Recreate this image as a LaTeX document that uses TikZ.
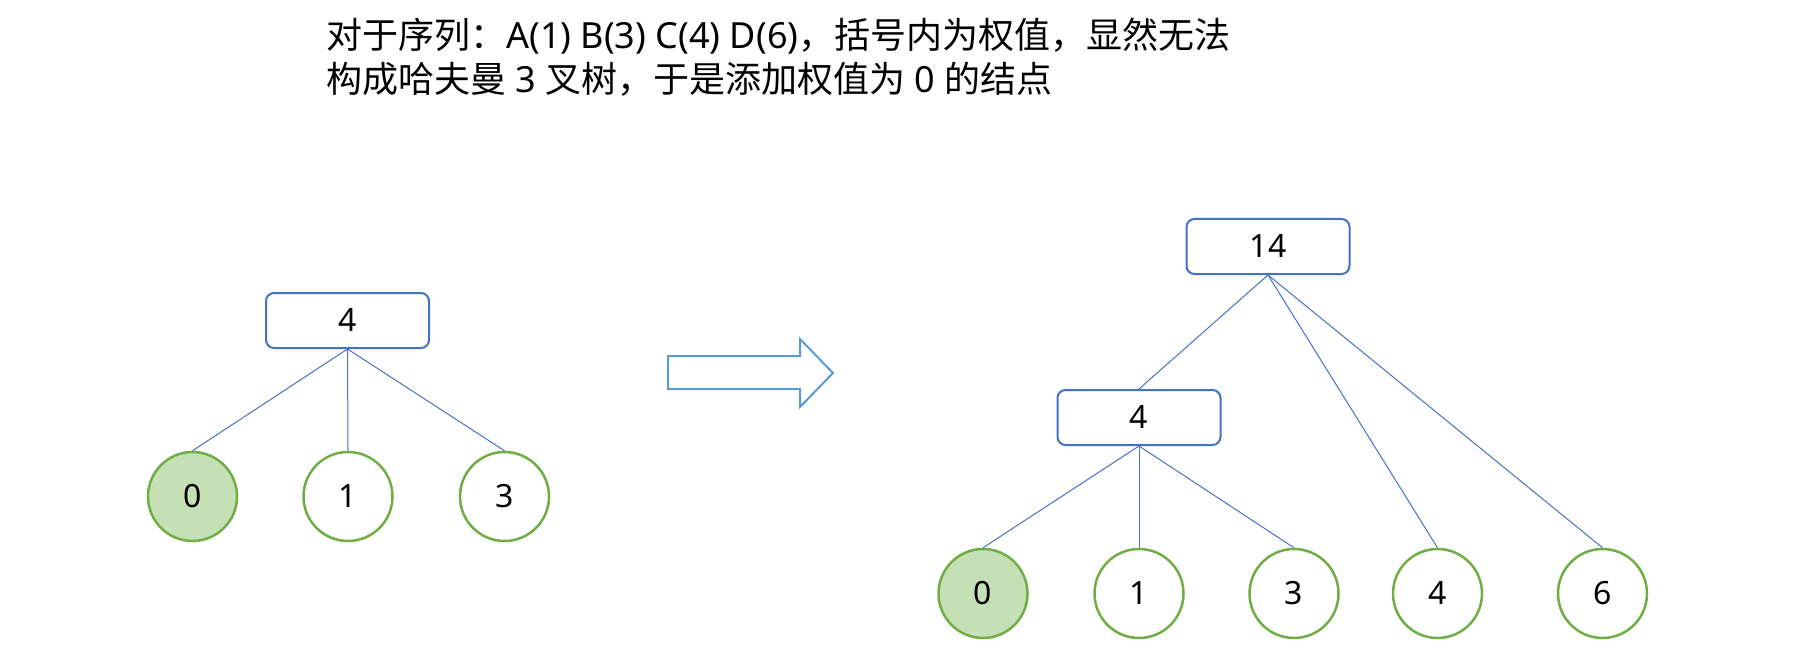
\documentclass[tikz,border=0pt]{standalone}
\usepackage{fontspec}
\setmainfont{Noto Sans}
\newfontfamily\cjk{Noto Sans CJK SC}
\definecolor{boxblue}{HTML}{4472C4}
\definecolor{arrowblue}{HTML}{5B9BD5}
\definecolor{leafgreen}{HTML}{70AD47}
\definecolor{leaffill}{HTML}{C5E0B4}
\tikzset{
  sumbox/.style={draw=boxblue, line width=2pt, rounded corners=8pt, minimum width=163pt, minimum height=55pt, inner sep=0pt, font=\fontsize{32}{38}\selectfont},
  leaf/.style={circle, draw=leafgreen, line width=2.5pt, minimum size=89pt, inner sep=0pt, font=\fontsize{32}{38}\selectfont},
  addleaf/.style={leaf, fill=leaffill},
  edge/.style={draw=boxblue, line width=1pt},
  caption/.style={anchor=base west, inner sep=0pt, font=\fontsize{36}{44}\selectfont}
}
\begin{document}
\begin{tikzpicture}[x=1pt, y=-1pt]
\useasboundingbox (0,0) rectangle (1794,671);
% caption
\node[caption] (t1) at (326,49) {{\cjk 对于序列：}A(1) B(3) C(4) D(6){\cjk ，括号内为权值，显然无法}};
\node[caption] (t2) at (326,93) {{\cjk 构成哈夫曼} 3 {\cjk 叉树，于是添加权值为} 0 {\cjk 的结点}};
% left tree
\node[sumbox] (L4) at (347.5,320.5) {4};
\node[addleaf] (L0) at (192.5,496.5) {0};
\node[leaf] (L1) at (348,496.5) {1};
\node[leaf] (L3) at (504.5,496.5) {3};
\draw[edge] (L4.south) -- (L0.north);
\draw[edge] (L4.south) -- (L1.north);
\draw[edge] (L4.south) -- (L3.north);
% arrow
\draw[arrowblue, line width=2pt, line join=miter] (668,356) -- (800,356) -- (800,339) -- (833,373) -- (800,407) -- (800,389) -- (668,389) -- cycle;
% right tree
\node[sumbox] (R14) at (1268,246.5) {14};
\node[sumbox] (R4) at (1139,417.5) {4};
\node[addleaf] (R0) at (983,593.5) {0};
\node[leaf] (R1) at (1139,593.5) {1};
\node[leaf] (R3) at (1294,593.5) {3};
\node[leaf] (RR4) at (1437.5,593.5) {4};
\node[leaf] (R6) at (1602.5,593.5) {6};
\draw[edge] (R14.south) -- (R4.north);
\draw[edge] (R14.south) -- (RR4.north);
\draw[edge] (R14.south) -- (R6.north);
\draw[edge] (R4.south) -- (R0.north);
\draw[edge] (R4.south) -- (R1.north);
\draw[edge] (R4.south) -- (R3.north);
\end{tikzpicture}
\end{document}
